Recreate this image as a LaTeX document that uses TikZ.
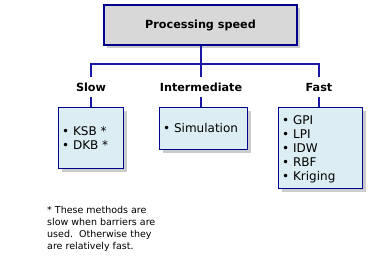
\documentclass[tikz,border=0pt]{standalone}
\usepackage{fontspec}
\setmainfont{DejaVu Sans}
\usetikzlibrary{shadows}
\definecolor{bordc}{RGB}{0,0,140}
\definecolor{connc}{RGB}{25,25,165}
\definecolor{boxfill}{RGB}{220,237,244}
\definecolor{topfill}{RGB}{216,216,216}
\tikzset{
  shad/.style={drop shadow={fill=black, opacity=0.2, shadow xshift=3pt, shadow yshift=-3pt}},
  box/.style={draw=bordc, line width=1.2pt, fill=boxfill, anchor=north west, inner sep=0pt, shad},
  topbox/.style={draw=bordc, line width=1.2pt, fill=topfill, inner sep=0pt, shad,
    minimum width=193pt, minimum height=40pt, font=\fontsize{11.2}{13}\selectfont\bfseries},
  lbl/.style={inner sep=0pt, minimum height=20pt, text height=9.6pt, text depth=1pt,
    font=\fontsize{11.2}{13}\selectfont\bfseries},
  item/.style={anchor=base west, inner sep=0pt, font=\fontsize{12}{14}\selectfont},
  conn/.style={draw=connc, line width=2pt},
  note/.style={anchor=north west, inner sep=0pt, align=left, font=\fontsize{9.5}{12}\selectfont}
}
\begin{document}
\begin{tikzpicture}[x=1pt, y=-1pt]
\useasboundingbox (0,0) rectangle (374,260);
% top
\node[topbox] (top) at (200.5,25) {Processing speed};
% category labels
\node[lbl] (slowlbl) at (91,87) {Slow};
\node[lbl] (midlbl) at (201,87) {Intermediate};
\node[lbl] (fastlbl) at (319,87) {Fast};
% boxes
\node[box, minimum width=65pt, minimum height=61pt] (slowbox) at (58,107) {};
\node[box, minimum width=88pt, minimum height=42pt] (midbox) at (159,107) {};
\node[box, minimum width=84pt, minimum height=81pt] (fastbox) at (278,107) {};
% items
\node[item] (i1) at (62,135) {• KSB *};
\node[item] (i2) at (62,149) {• DKB *};
\node[item] (i3) at (163,132) {• Simulation};
\node[item] (i4) at (282,124) {• GPI};
\node[item] (i5) at (282,138) {• LPI};
\node[item] (i6) at (282,152) {• IDW};
\node[item] (i7) at (282,166) {• RBF};
\node[item] (i8) at (282,180) {• Kriging};
% footnote
\node[note] (fn) at (47,206.5) {* These methods are\\slow when barriers are\\used.\ \ Otherwise they\\are relatively fast.};
% connectors
\coordinate (j) at (201,64);
\draw[conn] (top.south -| j) -- (j);
\draw[conn, line join=miter] (slowlbl.north) |- (j) -| (fastlbl.north);
\draw[conn] (j) -- (midlbl.north);
\draw[conn] (slowlbl.south) -- (slowlbl.south |- slowbox.north);
\draw[conn] (midlbl.south) -- (midlbl.south |- midbox.north);
\draw[conn] (fastlbl.south) -- (fastlbl.south |- fastbox.north);
\end{tikzpicture}
\end{document}
